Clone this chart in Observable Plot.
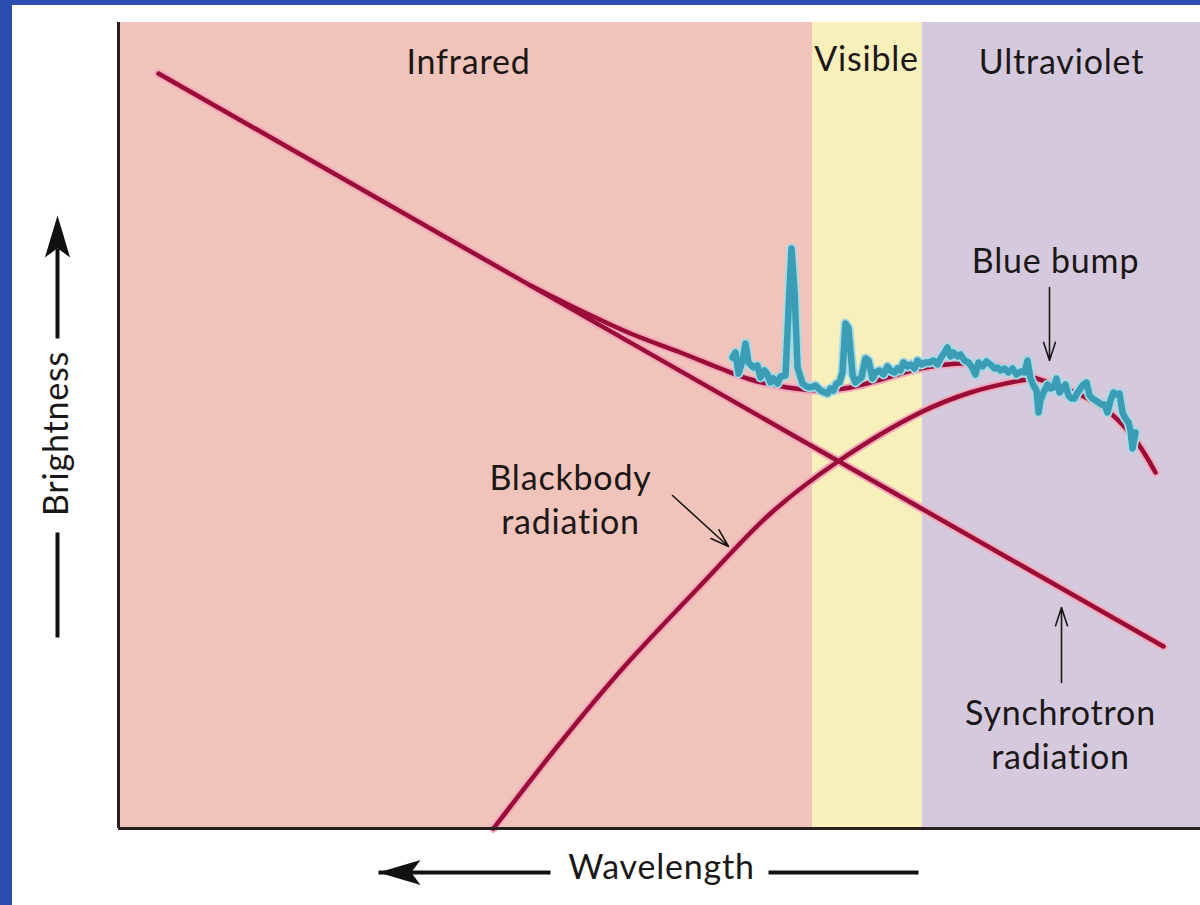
<!DOCTYPE html>
<html><head><meta charset="utf-8">
<script src="https://cdn.jsdelivr.net/npm/d3@7"></script>
<script src="https://cdn.jsdelivr.net/npm/@observablehq/plot@0.6"></script>
<style>
html,body{margin:0;padding:0;background:#2c4cb2;width:1200px;height:905px;overflow:hidden}
#page{position:absolute;left:12px;top:5px;width:1188px;height:900px;background:#fff}
#page svg{overflow:visible}
#page svg text{letter-spacing:0.8px}
</style></head><body><div id="page"></div>
<script>
// ---- data (arbitrary units: x = frequency position, y = brightness) ----
const bandNames = ["Infrared", "Visible", "Ultraviolet"];
const bandStart = [0, 694, 804];
const bandEnd = [694, 804, 1082];

const synchX = [40, 1045];
const synchY = [755, 182];

const blackbodyX = [375, 442, 505, 582, 652, 718, 802, 852, 902, 917];
const blackbodyY = [0, 86, 161, 243, 315, 366, 416, 436, 448, 450];

const totalX = [412, 462, 512, 562, 602, 632, 669, 702, 732, 752, 802, 842, 882, 912, 952, 985, 1015, 1037];
const totalY = [543, 518, 495, 476, 460, 449, 441, 438, 441, 446, 460, 465, 462, 452, 438, 421, 391, 356];

const specX = [614,617,620,624,627,630,635,639,642,646,649,652,655,659,662,667,670,673,676,679,684,688,692,697,702,706,709,712,715,718,721,724,727,730,734,737,740,743,747,750,754,757,761,765,769,772,776,779,782,785,789,792,796,799,803,807,811,815,819,822,826,829,832,835,839,842,846,850,853,857,860,864,868,872,876,879,882,886,890,894,898,902,906,909,912,915,918,920,922,925,929,932,935,938,941,944,947,950,953,956,959,962,965,968,971,974,977,980,983,986,989,992,995,998,1001,1004,1007,1010,1012,1014,1017];
const specY = [471,476,455,468,485,466,461,463,451,458,454,446,450,445,452,453,518,580,538,461,445,442,441,443,438,436,435,440,438,445,446,456,505,500,454,446,449,451,470,468,450,456,458,454,462,458,456,460,458,466,462,464,460,468,464,466,466,468,464,470,476,481,472,476,472,474,468,466,462,454,466,462,467,464,460,461,458,460,456,460,454,457,456,468,450,443,438,416,428,436,444,440,441,450,436,440,444,433,430,430,436,440,444,446,433,430,428,426,424,424,416,428,436,434,435,416,410,406,398,380,396];

// ---- tables built from the arrays ----
const bands = bandNames.map((name, i) => ({name, x1: bandStart[i], x2: bandEnd[i]}));
const synch = synchX.map((x, i) => ({x, y: synchY[i]}));
const blackbody = blackbodyX.map((x, i) => ({x, y: blackbodyY[i]}));
const total = totalX.map((x, i) => ({x, y: totalY[i]}));
const spectrum = specX.map((x, i) => ({x, y: specY[i]}));

const bandFill = {"Infrared": "#f0c4ba", "Visible": "#f8f0bb", "Ultraviolet": "#d5cadd"};

const bandLabels = [
  {text: "Infrared", x: 350, y: 765},
  {text: "Visible", x: 748, y: 768},
  {text: "Ultraviolet", x: 943, y: 765}
];
const notes = [
  {text: "Blue bump", x: 937, y: 570},
  {text: "Blackbody\nradiation", x: 452, y: 331},
  {text: "Synchrotron\nradiation", x: 942, y: 96}
];
const pointers = [
  {x1: 931, y1: 541, x2: 931, y2: 468},
  {x1: 554, y1: 333, x2: 610, y2: 282},
  {x1: 943, y1: 146, x2: 943, y2: 221}
];
const axisLines = [
  {x1: 260, y1: -44, x2: 432, y2: -44},
  {x1: 650, y1: -44, x2: 800, y2: -44},
  {x1: -61, y1: 191, x2: -61, y2: 296},
  {x1: -61, y1: 490, x2: -61, y2: 580}
];
const axisHeads = [
  {x: 260, y: -44, angle: -90},
  {x: -61, y: 613, angle: 0}
];

const arrowHead = {
  draw(ctx, size) {
    const r = Math.sqrt(size / Math.PI);
    const L = 2 * r, w = 0.6 * r;
    ctx.moveTo(0, 0);
    ctx.lineTo(w, L);
    ctx.lineTo(0, L * 0.78);
    ctx.lineTo(-w, L);
    ctx.closePath();
  }
};

const font = "Lato, 'Open Sans', sans-serif";
const ink = "#1c1717";
const red = "#990d38";
const halo = "#f3a9b9";
const fs = 34;

const chart = Plot.plot({
  width: 1188,
  height: 900,
  marginLeft: 106,
  marginRight: 0,
  marginTop: 17,
  marginBottom: 77,
  x: {domain: [0, 1082], axis: null},
  y: {domain: [0, 806], axis: null},
  style: {background: "transparent", fontFamily: font, overflow: "visible"},
  marks: [
    Plot.rect(bands, {x1: "x1", x2: "x2", y1: 0, y2: 806, fill: d => bandFill[d.name]}),
    Plot.text(bandLabels, {x: "x", y: "y", text: "text", fontSize: fs, fill: ink, fontFamily: font}),
    // halos first
    Plot.line(synch, {x: "x", y: "y", stroke: halo, strokeWidth: 8.5}),
    Plot.line(blackbody, {x: "x", y: "y", curve: "catmull-rom", stroke: halo, strokeWidth: 8.5}),
    Plot.line(total, {x: "x", y: "y", curve: "catmull-rom", stroke: halo, strokeWidth: 8.5}),
    // model curves
    Plot.line(synch, {x: "x", y: "y", stroke: red, strokeWidth: 4.5}),
    Plot.line(blackbody, {x: "x", y: "y", curve: "catmull-rom", stroke: red, strokeWidth: 4.5}),
    Plot.line(total, {x: "x", y: "y", curve: "catmull-rom", stroke: red, strokeWidth: 4.5}),
    // observed spectrum
    Plot.line(spectrum, {x: "x", y: "y", stroke: "#a6dbe6", strokeWidth: 10}),
    Plot.line(spectrum, {x: "x", y: "y", stroke: "#3a9db5", strokeWidth: 6.5}),
    // annotations
    Plot.text(notes, {x: "x", y: "y", text: "text", fontSize: fs, lineHeight: 1.3, fill: ink, fontFamily: font}),
    Plot.arrow(pointers, {x1: "x1", y1: "y1", x2: "x2", y2: "y2", stroke: ink, strokeWidth: 1.6, headLength: 18, headAngle: 36}),
    // frame
    Plot.ruleX([0], {stroke: "#2b2020", strokeWidth: 3}),
    Plot.ruleY([0], {stroke: "#2b2020", strokeWidth: 3}),
    // axis arrows and labels
    Plot.link(axisLines, {x1: "x1", y1: "y1", x2: "x2", y2: "y2", stroke: "#111", strokeWidth: 4}),
    Plot.dot(axisHeads, {x: "x", y: "y", symbol: arrowHead, r: 21, fill: "#111", stroke: "none", rotate: "angle"}),
    Plot.text(["Wavelength"], {x: 543, y: -40, text: d => d, fontSize: fs, fill: ink, fontFamily: font}),
    Plot.text(["Brightness"], {x: -61, y: 395, text: d => d, fontSize: fs, rotate: -90, fill: ink, fontFamily: font})
  ]
});
document.getElementById("page").appendChild(chart);
</script>
</body></html>
